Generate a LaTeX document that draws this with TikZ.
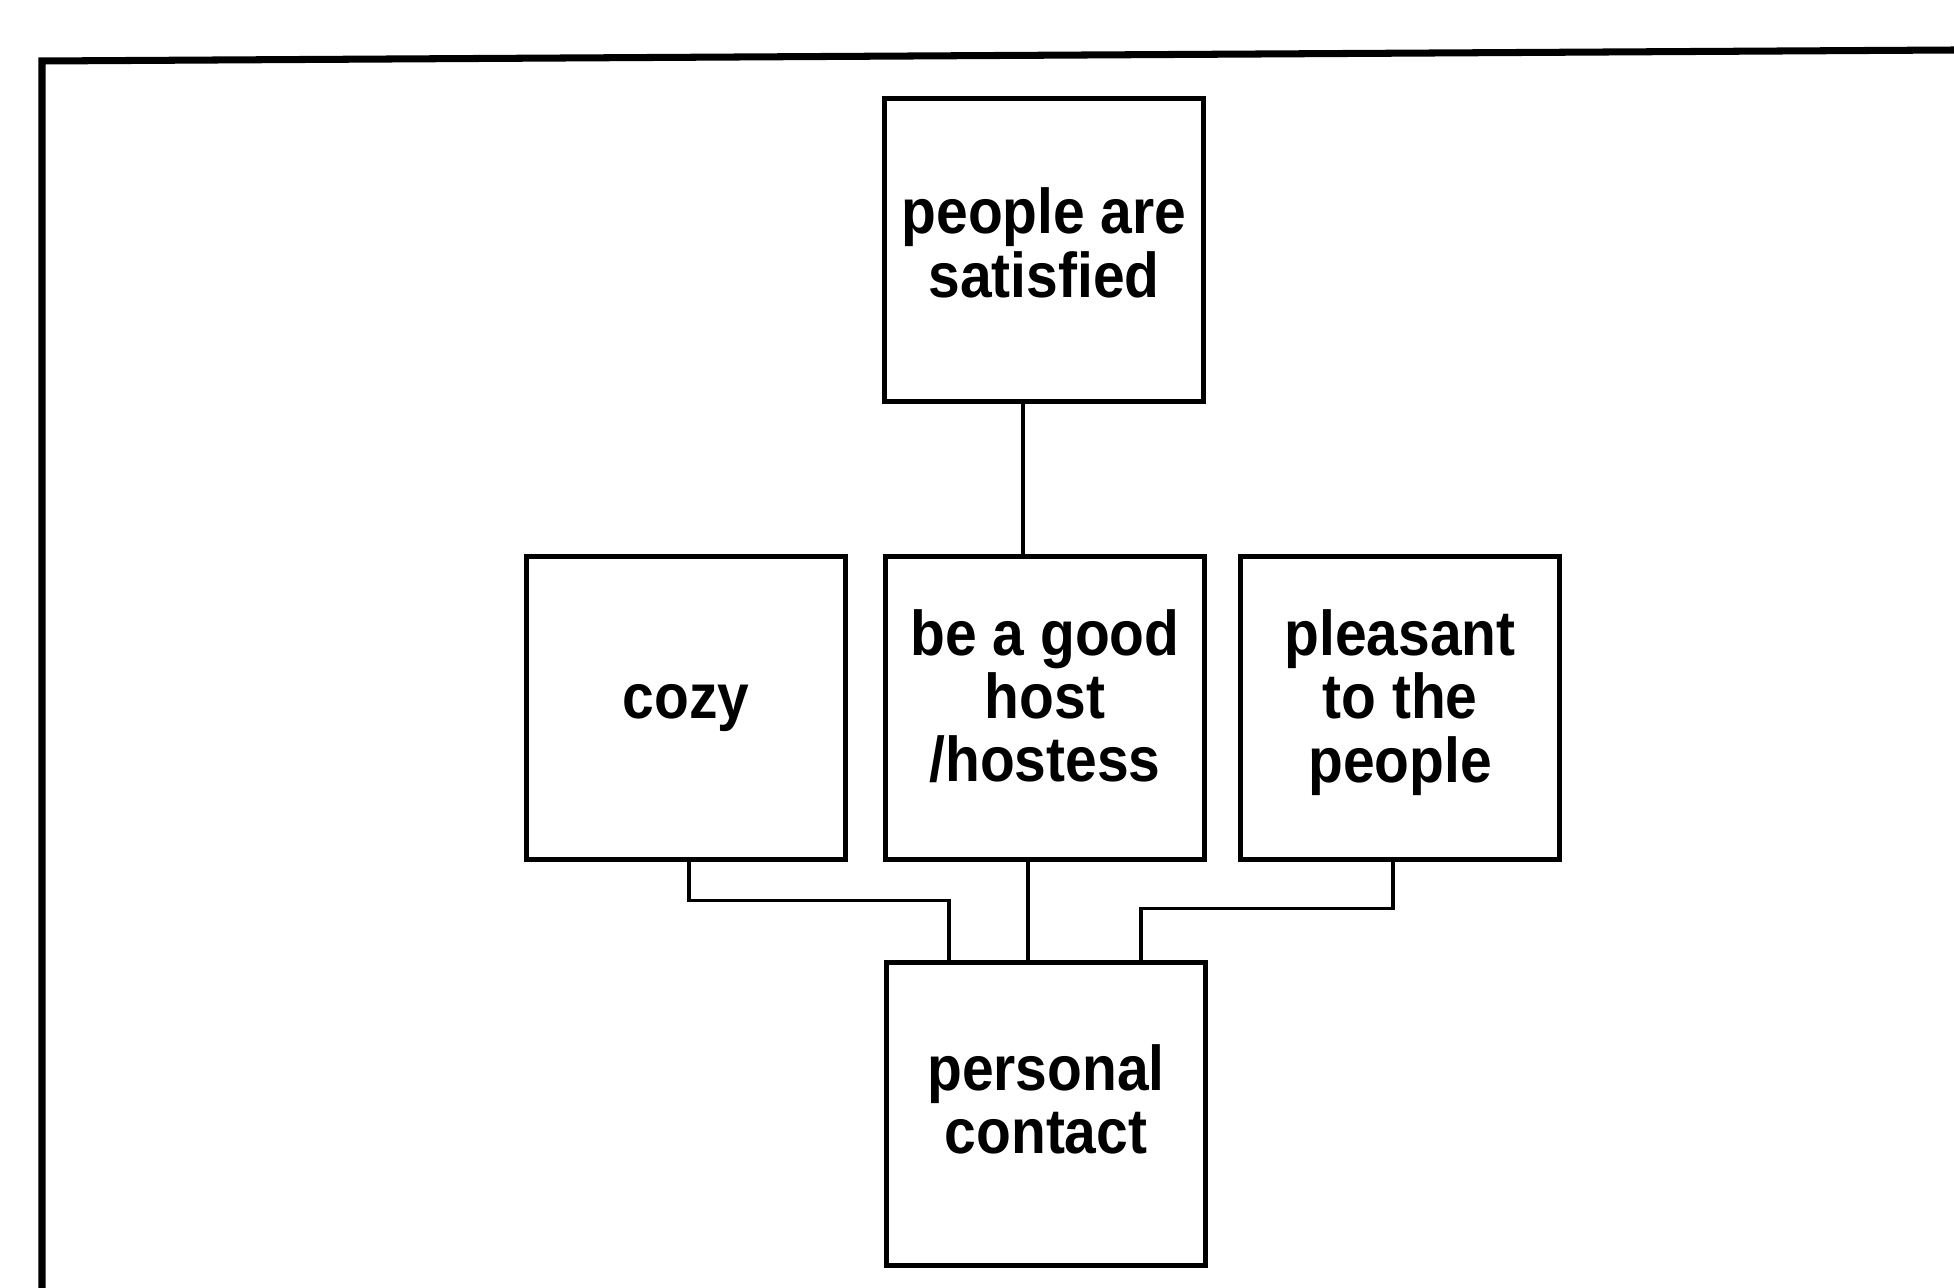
\documentclass[tikz,border=0pt]{standalone}
\usepackage{fontspec}
\usepackage{xcolor}
\usepackage{tikz}
\usetikzlibrary{positioning, calc}
\newfontfamily\boxfont[FakeStretch=0.9]{Liberation Sans}
\definecolor{inkOne}{HTML}{000000}
\tikzset{
  goal/.style={draw=inkOne, line width=1.3pt, minimum width=3.19cm, minimum height=3.03cm, inner sep=0pt,
    align=center, font=\boxfont\bfseries\fontsize{18}{18}\selectfont, text=inkOne},
  lift/.style={text depth=#1},
  link/.style={draw=inkOne, line width=0.9pt},
  frame/.style={draw=inkOne, line width=2pt},
}
\begin{document}
\begin{tikzpicture}[x=0.01cm, y=-0.01cm]
  \useasboundingbox (0,0) rectangle (1954,1288);
  % outer frame, cut by the page
  \coordinate (fbl) at (42,1288);
  \coordinate (ftl) at (42,61);
  \coordinate (ftr) at (1954,50);
  \draw[frame] (fbl) -- (ftl) -- (ftr);
  % goals
  \node[goal, lift=0.15cm] (sat) at (1044,250) {people are\\satisfied};
  \node[goal] (cozy) at (686,708) {cozy};
  \node[goal, lift=0.25cm] (host) at (1045,708) {be a good\\host\\/hostess};
  \node[goal, lift=0.24cm] (pleas) at (1400,708) {pleasant\\to the\\people};
  \node[goal, lift=0.3cm] (contact) at (1046,1114) {personal\\contact};
  % links
  \draw[link] ([xshift=-0.21cm]sat.south) -- ([xshift=-0.22cm]host.north);
  \draw[link] ([xshift=0.03cm]cozy.south) |- ([xshift=-0.97cm, yshift=0.60cm]contact.north) -- ([xshift=-0.97cm]contact.north);
  \draw[link] ([xshift=-0.17cm]host.south) -- ([xshift=-0.18cm]contact.north);
  \draw[link] ([xshift=-0.07cm]pleas.south) |- ([xshift=0.95cm, yshift=0.52cm]contact.north) -- ([xshift=0.95cm]contact.north);
\end{tikzpicture}
\end{document}
